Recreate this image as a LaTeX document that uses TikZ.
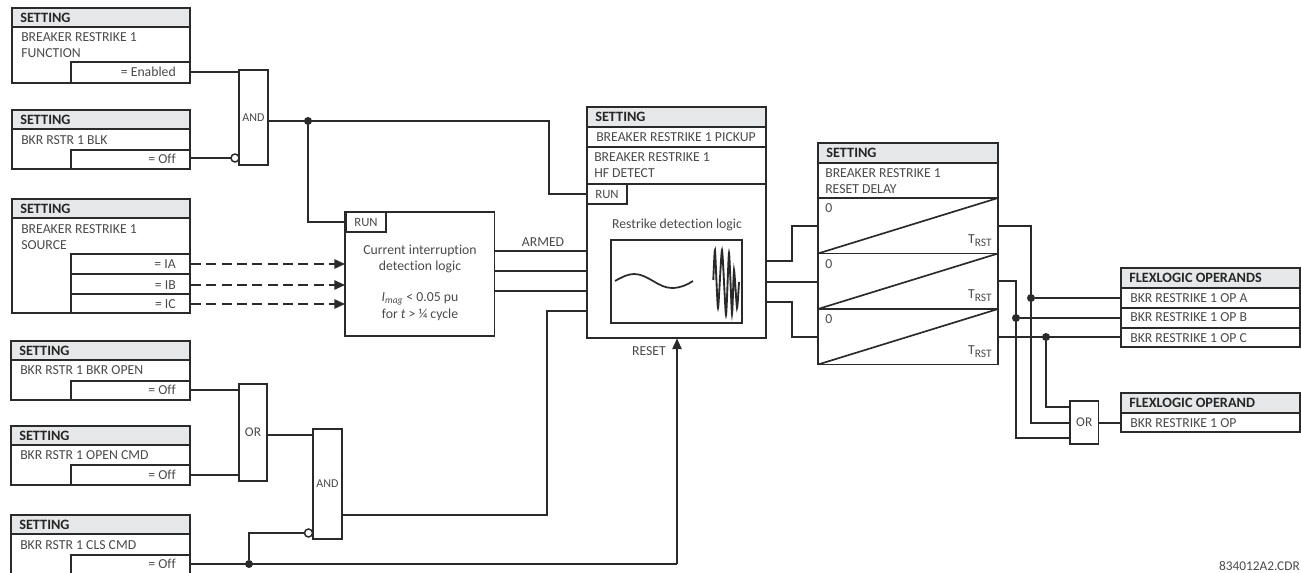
\documentclass[tikz,border=0pt]{standalone}
\usepackage{fontspec}
\setmainfont[Ligatures=NoCommon]{Carlito}
\usetikzlibrary{arrows.meta}
\definecolor{txt}{HTML}{4A4A4A}
\definecolor{hdr}{HTML}{E6E7E8}
\definecolor{ln}{HTML}{2A2A2A}
\tikzset{
  wire/.style={draw=ln,line width=1.25pt},
  boxln/.style={draw=ln,line width=1.4pt},
  lab/.style={text=txt,font=\fontsize{10.3}{12}\selectfont,inner sep=0pt},
  labl/.style={lab,anchor=west},
  labr/.style={lab,anchor=east},
  headt/.style={text=black!85,font=\fontsize{10.7}{12}\selectfont\bfseries,inner sep=0pt,anchor=west},
  dot/.style={circle,fill=ln,inner sep=0pt,minimum size=6pt},
  bubble/.style={circle,draw=ln,fill=white,line width=1.1pt,inner sep=0pt,minimum size=6pt},
  gate/.style={boxln,fill=white,inner sep=0pt,text=txt},
  runbox/.style={draw=ln,line width=1.4pt,minimum width=30pt,minimum height=15pt,inner sep=0pt,text=txt,font=\fontsize{9.5}{11}\selectfont},
  arr/.style={-{Triangle[length=8pt,width=7pt]}},
  dashwire/.style={wire,dash pattern=on 7.5pt off 4pt,arr},
}
\newcommand{\hdrbox}[6]{%
  \fill[hdr] (#1,#2) rectangle (#3,#5);
  \draw[boxln] (#1,#2) rectangle (#3,#4);
  \draw[boxln] (#1,#5) -- (#3,#5);
  \node[headt] at (#1+8,{(#2+#5)/2}) {#6};
}
\newcommand{\trst}{T\raisebox{-2.2pt}{\fontsize{8.6}{10}\selectfont RST}}
\begin{document}
\begin{tikzpicture}[x=0.75pt,y=-0.75pt]
\useasboundingbox (0,0) rectangle (1301,573);
\begin{scope}
\clip (0,0) rectangle (1301,573);

% left setting boxes
\hdrbox{12}{8}{190}{83}{27}{SETTING}
\node[labl] at (21,37) {BREAKER RESTRIKE 1};
\node[labl] at (21,53) {FUNCTION};
\draw[boxln] (71,83) -- (71,62) -- (190,62);
\node[labr] (s1) at (176,72) {= Enabled};
\coordinate (s1o) at (190,72);

\hdrbox{12}{110}{190}{169}{129}{SETTING}
\node[labl] at (21,140) {BKR RSTR 1 BLK};
\draw[boxln] (71,169) -- (71,150) -- (190,150);
\node[labr] (s2) at (176,159) {= Off};
\coordinate (s2o) at (190,158);

\hdrbox{12}{199}{190}{313}{218}{SETTING}
\node[labl] at (21,229) {BREAKER RESTRIKE 1};
\node[labl] at (21,245) {SOURCE};
\draw[boxln] (71,313) -- (71,254) -- (190,254);
\draw[boxln] (71,274) -- (190,274);
\draw[boxln] (71,294) -- (190,294);
\node[labr] (sa) at (176,264) {= IA};
\node[labr] (sb) at (176,285) {= IB};
\node[labr] (sc) at (176,304) {= IC};
\coordinate (sao) at (191,264);
\coordinate (sbo) at (191,285);
\coordinate (sco) at (191,304);

\hdrbox{11}{341}{190}{400}{360}{SETTING}
\node[labl] at (20,370.5) {BKR RSTR 1 BKR OPEN};
\draw[boxln] (71,400) -- (71,381) -- (190,381);
\node[labr] (s4) at (176,390) {= Off};
\coordinate (s4o) at (190,390);

\hdrbox{11}{426}{190}{485}{445}{SETTING}
\node[labl] at (20,455.5) {BKR RSTR 1 OPEN CMD};
\draw[boxln] (71,485) -- (71,465) -- (190,465);
\node[labr] (s5) at (176,475) {= Off};
\coordinate (s5o) at (190,475);

\hdrbox{11}{515}{190}{580}{534}{SETTING}
\node[labl] at (20,545) {BKR RSTR 1 CLS CMD};
\draw[boxln] (71,580) -- (71,555) -- (190,555);
\node[labr] (s6) at (176,564) {= Off};
\coordinate (s6o) at (190,564);

% gates
\node[gate,minimum width=21.75pt,minimum height=71.25pt,font=\fontsize{9}{10}\selectfont] (and1) at (253.5,117.5) {AND};
\node[gate,minimum width=21pt,minimum height=72.75pt,font=\fontsize{10}{11}\selectfont] (or1) at (253,432.5) {OR};
\node[gate,minimum width=21.75pt,minimum height=82.5pt,font=\fontsize{9}{10}\selectfont] (and2) at (327.5,484) {AND};
\node[gate,minimum width=21.4pt,minimum height=32.25pt,font=\fontsize{10}{11}\selectfont] (or2) at (1084.25,422.5) {OR};

\draw[wire] (s1o) -- (239,72);
\draw[wire] (s2o) -- (231,158);
\node[bubble] (b1) at (235,158) {};
\draw[wire] (s4o) -- (239,390);
\draw[wire] (s5o) -- (239,475);
\draw[wire] (267,435) -- (313,435);

% current interruption box
\draw[boxln] (345,212) rectangle (494.5,336);
\node[runbox] (run1) at (366,222) {RUN};
\node[lab] at (420,251) {Current interruption};
\node[lab] at (420,267) {detection logic};
\node[lab] at (420,299) {\textit{I}\textsubscript{\textit{mag}} < 0.05 pu};
\node[lab] at (420,314.5) {for \textit{t} > ¼ cycle};
\draw[dashwire] (sao) -- (345,264);
\draw[dashwire] (sbo) -- (345,285);
\draw[dashwire] (sco) -- (345,304);

% main box
\hdrbox{587}{107}{766}{338}{127}{SETTING}
\node[labl] at (596,137) {BREAKER RESTRIKE 1 PICKUP};
\draw[boxln] (587,147) -- (766,147);
\node[labl] at (594,157.5) {BREAKER RESTRIKE 1};
\node[labl] at (594,173.5) {HF DETECT};
\draw[boxln] (587,184) -- (766,184);
\node[runbox] (run2) at (607,194) {RUN};
\node[lab] at (677,224.5) {Restrike detection logic};
\draw[boxln] (611,240) rectangle (742,323);
\draw[line width=1.3pt,draw=ln] (615,281) .. controls (622,277) and (628,274) .. (634,274)
  .. controls (648,274) and (658,288) .. (672,288)
  .. controls (680,288) and (687,285) .. (693,281);
\draw[line width=1.4pt,draw=ln] plot[smooth,tension=0.35] coordinates {(713.3,280) (715,250) (718,308) (722,250) (726,315) (729,253) (732,314) (734,270) (737,308) (739,282)};

% wires to main box
\draw[wire] (and1.east |- 0,121) -- (549,121) -- (549,194) -- (587,194);
\node[dot] (d1) at (308,121) {};
\draw[wire] (d1) -- (308,222) -- (run1.west);
\draw[wire] (494.5,251) -- (587,251);
\draw[wire] (494.5,271) -- (587,271);
\draw[wire] (494.5,291) -- (587,291);
\draw[wire] (and2.east |- 0,515) -- (547,515) -- (547,311) -- (587,311);
\node[lab] at (543,242) {ARMED};
\node[lab] at (649,351) {RESET};

% bottom
\node[dot] (d2) at (249,564) {};
\draw[wire] (s6o) -- (677,564);
\draw[wire,arr] (677,564) -- (677,338.5);
\draw[wire] (d2) -- (249,533) -- (304,533);
\node[bubble] (b2) at (308.5,533) {};

% delay box
\hdrbox{818}{143}{998}{364.5}{163}{SETTING}
\node[labl] at (825,173) {BREAKER RESTRIKE 1};
\node[labl] at (825,189) {RESET DELAY};
\draw[boxln] (818,198) -- (998,198);
\draw[boxln] (818,253.5) -- (998,253.5);
\draw[boxln] (818,309) -- (998,309);
\draw[wire] (818,253.5) -- (998,198);
\draw[wire] (818,309) -- (998,253.5);
\draw[wire] (818,364.5) -- (998,309);
\foreach \yy in {208.5,264,319.5}{\node[labl] at (825,\yy) {0};}
\foreach \yy in {241,296,352}{\node[labr] at (992,\yy) {\trst};}
\draw[wire] (766,261) -- (792,261) -- (792,226) -- (818,226);
\draw[wire] (766,282) -- (818,282);
\draw[wire] (766,302) -- (792,302) -- (792,337) -- (818,337);

% flexlogic
\hdrbox{1121}{268}{1300}{347}{288}{FLEXLOGIC OPERANDS}
\draw[boxln] (1121,308) -- (1300,308);
\draw[boxln] (1121,328) -- (1300,328);
\node[labl] at (1130,298) {BKR RESTRIKE 1 OP A};
\node[labl] at (1130,317.5) {BKR RESTRIKE 1 OP B};
\node[labl] at (1130,338) {BKR RESTRIKE 1 OP C};
\hdrbox{1121}{393}{1300}{432}{413}{FLEXLOGIC OPERAND}
\node[labl] at (1130,423) {BKR RESTRIKE 1 OP};

\node[dot] (da) at (1031,298) {};
\node[dot] (db) at (1016,318) {};
\node[dot] (dc) at (1046,337) {};
\draw[wire] (998,226) -- (1031,226) -- (1031,423) -- (1070,423);
\draw[wire] (998,281) -- (1016,281) -- (1016,438) -- (1070,438);
\draw[wire] (998,337) -- (1121,337);
\draw[wire] (dc) -- (1046,407) -- (1070,407);
\draw[wire] (da) -- (1121,298);
\draw[wire] (db) -- (1121,318);
\draw[wire] (or2.east |- 0,423) -- (1121,423);

\node[anchor=east,text=txt,font=\fontsize{10}{11}\selectfont,inner sep=0pt] (code) at (1300,566) {834012A2.CDR};
\end{scope}
\end{tikzpicture}
\end{document}
